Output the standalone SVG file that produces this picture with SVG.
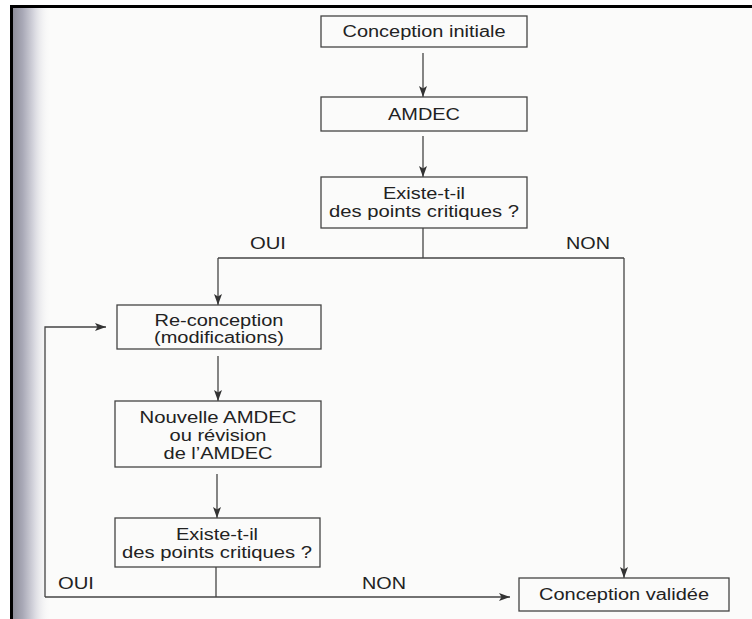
<svg xmlns="http://www.w3.org/2000/svg" width="752" height="619" viewBox="0 0 752 619">
  <defs>
    <linearGradient id="edge" x1="0" y1="0" x2="1" y2="0">
      <stop offset="0" stop-color="#8e8e9a"/>
      <stop offset="0.25" stop-color="#a8a8b6"/>
      <stop offset="0.55" stop-color="#d6d6de"/>
      <stop offset="1" stop-color="#fbfbfa" stop-opacity="0"/>
    </linearGradient>
    <marker id="arr" markerUnits="userSpaceOnUse" markerWidth="12" markerHeight="10" viewBox="0 0 12 10" refX="11" refY="5" orient="auto">
      <path d="M0,1 L11,5 L0,9 L2.5,5 Z" fill="#333"/>
    </marker>
  </defs>
  <style>
    .box { fill: none; stroke: #444; stroke-width: 1.3; }
    .ln { fill: none; stroke: #444; stroke-width: 1.3; }
    .arw { fill: none; stroke: #444; stroke-width: 1.3; marker-end: url(#arr); }
    text { font-family: "Liberation Sans", Arial, sans-serif; font-size: 16px; fill: #222; text-anchor: middle; }
    .lab { text-anchor: start; }
  </style>

  <rect x="0" y="0" width="752" height="619" fill="#ffffff"/>
  <rect x="12" y="7" width="740" height="612" fill="#fbfbfa"/>
  <rect x="13" y="7" width="38" height="612" fill="url(#edge)"/>
  <line x1="11.5" y1="5" x2="11.5" y2="619" stroke="#000" stroke-width="3"/>
  <line x1="10" y1="6.5" x2="752" y2="6.5" stroke="#000" stroke-width="3"/>

  <g id="connectors">
    <line class="arw" x1="423" y1="53" x2="423" y2="97"/>
    <line class="arw" x1="423" y1="136" x2="423" y2="177"/>
    <polyline class="ln" points="423,228 423,258"/>
    <polyline class="ln" points="218,258 624,258"/>
    <line class="arw" x1="218" y1="258" x2="218" y2="305"/>
    <line class="arw" x1="624" y1="258" x2="624" y2="578"/>
    <line class="arw" x1="218" y1="356" x2="218" y2="401"/>
    <line class="arw" x1="217" y1="474" x2="217" y2="518"/>
    <polyline class="ln" points="216,567 216,597"/>
    <polyline class="arw" points="45,597 510,597"/>
    <polyline class="arw" points="45,597 45,327 106,327"/>
    <text class="lab" x="250" y="249" textLength="36" lengthAdjust="spacingAndGlyphs">OUI</text>
    <text class="lab" x="566" y="249" textLength="44" lengthAdjust="spacingAndGlyphs">NON</text>
    <text class="lab" x="58" y="589" textLength="36" lengthAdjust="spacingAndGlyphs">OUI</text>
    <text class="lab" x="362" y="589" textLength="44" lengthAdjust="spacingAndGlyphs">NON</text>
  </g>

  <g id="conception-initiale">
    <rect class="box" x="321" y="16" width="206" height="31"/>
    <text x="424" y="37" textLength="163" lengthAdjust="spacingAndGlyphs">Conception initiale</text>
  </g>

  <g id="amdec">
    <rect class="box" x="321" y="97" width="206" height="34"/>
    <text x="424" y="120" textLength="72" lengthAdjust="spacingAndGlyphs">AMDEC</text>
  </g>

  <g id="existe-1">
    <rect class="box" x="321" y="177" width="206" height="51"/>
    <text x="424" y="199" textLength="82" lengthAdjust="spacingAndGlyphs">Existe-t-il</text>
    <text x="424" y="217" textLength="190" lengthAdjust="spacingAndGlyphs">des points critiques ?</text>
  </g>

  <g id="reconception">
    <rect class="box" x="117" y="305" width="204" height="44"/>
    <text x="219" y="326" textLength="129" lengthAdjust="spacingAndGlyphs">Re-conception</text>
    <text x="219" y="343" textLength="130" lengthAdjust="spacingAndGlyphs">(modifications)</text>
  </g>

  <g id="nouvelle-amdec">
    <rect class="box" x="115" y="401" width="206" height="66"/>
    <text x="218" y="423" textLength="157" lengthAdjust="spacingAndGlyphs">Nouvelle AMDEC</text>
    <text x="218" y="441" textLength="97" lengthAdjust="spacingAndGlyphs">ou révision</text>
    <text x="218" y="459" textLength="109" lengthAdjust="spacingAndGlyphs">de l’AMDEC</text>
  </g>

  <g id="existe-2">
    <rect class="box" x="115" y="518" width="205" height="49"/>
    <text x="217" y="540" textLength="82" lengthAdjust="spacingAndGlyphs">Existe-t-il</text>
    <text x="217" y="558" textLength="190" lengthAdjust="spacingAndGlyphs">des points critiques ?</text>
  </g>

  <g id="conception-validee">
    <rect class="box" x="519" y="578" width="210" height="33"/>
    <text x="624" y="600" textLength="170" lengthAdjust="spacingAndGlyphs">Conception validée</text>
  </g>
</svg>
